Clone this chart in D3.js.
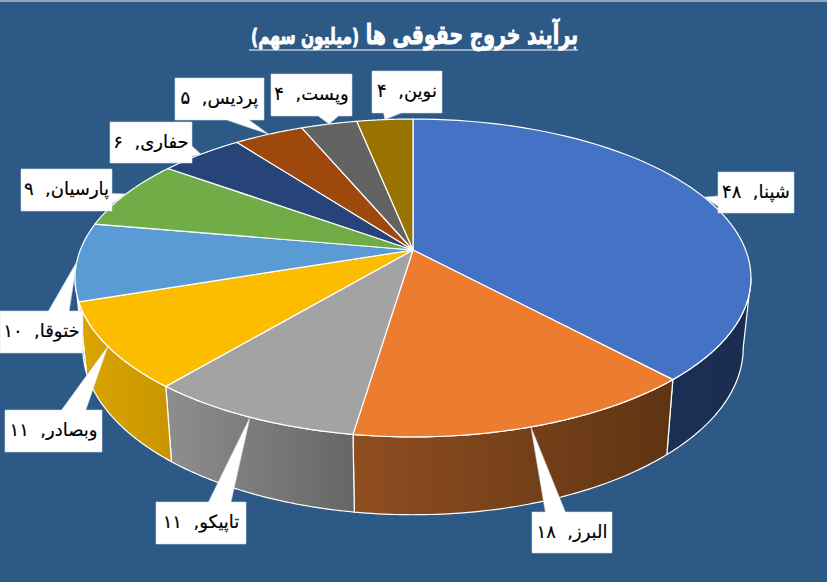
<!DOCTYPE html>
<html>
<head>
<meta charset="utf-8">
<script src="https://cdnjs.cloudflare.com/ajax/libs/d3/7.8.5/d3.min.js"></script>
<style>
  html, body { margin: 0; padding: 0; background: #2c5985; }
  svg { display: block; }
  text { font-family: "DejaVu Sans", "Noto Sans", sans-serif; }
</style>
</head>
<body>
<script>
var w = 827;
var h = 582;

var names = ["شپنا", "البرز", "تاپیکو", "وبصادر", "ختوقا", "پارسیان", "حفاری", "پردیس", "وپست", "نوین"];
var values = [48, 18, 11, 11, 10, 9, 6, 5, 4, 4];
var valueLabels = ["۴۸", "۱۸", "۱۱", "۱۱", "۱۰", "۹", "۶", "۵", "۴", "۴"];

var topColors = ["#4472c4", "#eb7c30", "#a3a3a3", "#fcbd00", "#5b9bd5", "#70ad47", "#264478", "#9e480e", "#636363", "#997300"];
var sideStops = [
  ["#1b2f55", "#1a2c50"],
  ["#8f4e20", "#5f3413"],
  ["#8e8e8e", "#666666"],
  ["#dba500", "#c89500"],
  ["#4d86ba", "#4d86ba"],
  ["#70ad47", "#70ad47"],
  ["#264478", "#264478"],
  ["#9e480e", "#9e480e"],
  ["#636363", "#636363"],
  ["#997300", "#997300"]
];

// label boxes as placed on the slide: x0, y0, x1, y1
var labelBoxes = [
  [718, 172, 794, 213],
  [532, 512, 612, 553],
  [156, 502, 246, 544],
  [5, 410, 102, 452],
  [0, 311, 83, 353],
  [21, 169, 112, 211],
  [110, 122, 192, 163],
  [175, 78, 264, 120],
  [271, 74, 352, 116],
  [372, 71, 442, 113]
];

// 3D pie is a flat disc seen in perspective
var cx = 413, cy = 250;
var discA = 332.7, discB = 154, persp = -0.176;
var depthY = 68.5, scaleX = 0.977, scaleY = 1.05;

// rim is only visible between the two silhouette angles
var visFrom = Math.acos(persp);
var visTo = 2 * Math.PI - visFrom;

function topPoint(a) {
  var x = Math.sin(a), y = -Math.cos(a);
  var k = 1 + persp * y;
  return [cx + discA * x / k, cy + discB * y / k];
}
function bottomPoint(a) {
  var p = topPoint(a);
  return [cx + scaleX * (p[0] - cx), cy + depthY + scaleY * (p[1] - cy)];
}
function arcAngles(a0, a1) {
  return d3.range(0, 61).map(function(i) { return a0 + (a1 - a0) * i / 60; });
}

var pie = d3.pie().sort(null).value(function(d) { return d; });
var arcs = pie(values);
var line = d3.line();

var svg = d3.select("body").append("svg")
  .attr("width", w)
  .attr("height", h);

svg.append("rect").attr("width", w).attr("height", 2).attr("fill", "#8fa6bd");

var defs = svg.append("defs");
var grads = defs.selectAll("linearGradient")
  .data(arcs)
  .enter()
  .append("linearGradient")
  .attr("id", function(d, i) { return "side" + i; })
  .attr("x1", 0).attr("x2", 1).attr("y1", 0).attr("y2", 0);
grads.append("stop").attr("offset", 0).attr("stop-color", function(d, i) { return sideStops[i][0]; });
grads.append("stop").attr("offset", 1).attr("stop-color", function(d, i) { return sideStops[i][1]; });

// side walls first, the top covers what is behind it
svg.selectAll("path.side")
  .data(arcs)
  .enter()
  .append("path")
  .attr("class", "side")
  .attr("d", function(d) {
    var a0 = Math.max(d.startAngle, visFrom), a1 = Math.min(d.endAngle, visTo);
    if (a1 <= a0) return null;
    var as = arcAngles(a0, a1);
    var pts = as.map(topPoint).concat(as.slice().reverse().map(bottomPoint));
    return line(pts) + "Z";
  })
  .attr("fill", function(d, i) { return "url(#side" + i + ")"; })
  .attr("stroke", "#ffffff")
  .attr("stroke-width", 1.2)
  .attr("stroke-linejoin", "round");

svg.selectAll("path.top")
  .data(arcs)
  .enter()
  .append("path")
  .attr("class", "top")
  .attr("d", function(d) {
    var pts = [[cx, cy]].concat(arcAngles(d.startAngle, d.endAngle).map(topPoint));
    return line(pts) + "Z";
  })
  .attr("fill", function(d, i) { return topColors[i]; })
  .attr("stroke", "#ffffff")
  .attr("stroke-width", 1.2)
  .attr("stroke-linejoin", "round");

// wedge callout, base sits on the side facing the tip like in office charts
function calloutPath(b, tip) {
  var x0 = b[0], y0 = b[1], x1 = b[2], y1 = b[3];
  var bw = x1 - x0, bh = y1 - y0;
  var dx = tip[0] - (x0 + x1) / 2, dy = tip[1] - (y0 + y1) / 2;
  var vertical = Math.abs(dy) > Math.abs(dx * bh / bw);
  var xa = x0 + bw * (dx > 0 ? 7 : 2) / 12, xb = x0 + bw * (dx > 0 ? 10 : 5) / 12;
  var ya = y0 + bh * (dy > 0 ? 7 : 2) / 12, yb = y0 + bh * (dy > 0 ? 10 : 5) / 12;
  var pts = [[x0, y0]];
  if (vertical && dy < 0) pts.push([xa, y0], tip, [xb, y0]);
  pts.push([x1, y0]);
  if (!vertical && dx > 0) pts.push([x1, ya], tip, [x1, yb]);
  pts.push([x1, y1]);
  if (vertical && dy > 0) pts.push([xb, y1], tip, [xa, y1]);
  pts.push([x0, y1]);
  if (!vertical && dx < 0) pts.push([x0, yb], tip, [x0, ya]);
  return line(pts) + "Z";
}

var labels = svg.selectAll("g.label")
  .data(arcs)
  .enter()
  .append("g")
  .attr("class", "label");

labels.append("path")
  .attr("d", function(d, i) {
    return calloutPath(labelBoxes[i], topPoint((d.startAngle + d.endAngle) / 2));
  })
  .attr("fill", "#ffffff")
  .attr("stroke", "#d5dbe3")
  .attr("stroke-width", 0.6);

labels.append("text")
  .attr("x", function(d, i) { return (labelBoxes[i][0] + labelBoxes[i][2]) / 2; })
  .attr("y", function(d, i) { return (labelBoxes[i][1] + labelBoxes[i][3]) / 2 + 5; })
  .attr("text-anchor", "middle")
  .attr("direction", "rtl")
  .attr("font-size", 18)
  .attr("fill", "#000000")
  .attr("stroke", "#000000")
  .attr("stroke-width", 0.2)
  .text(function(d, i) { return names[i] + ",\u00a0\u00a0" + valueLabels[i]; });

// title is squeezed to the width of its underline
var titleGroup = svg.append("g");
var titleText = titleGroup.append("text")
  .attr("x", 0)
  .attr("y", 0)
  .attr("text-anchor", "start")
  .attr("direction", "rtl")
  .attr("font-size", 27)
  .attr("font-weight", "bold")
  .attr("fill", "#ffffff")
  .attr("stroke", "#ffffff")
  .attr("stroke-width", 0.9);
titleText.append("tspan").text("برآیند خروج حقوقی ها ");
titleText.append("tspan").attr("font-size", 22).text("(میلیون سهم)");

var titleLen = titleText.node().getComputedTextLength();
titleGroup.attr("transform", "translate(578,44) scale(" + (327 / titleLen) + ",1)");

svg.append("line")
  .attr("x1", 249).attr("x2", 578)
  .attr("y1", 50).attr("y2", 50)
  .attr("stroke", "#ffffff")
  .attr("stroke-width", 1.2);
</script>
</body>
</html>
